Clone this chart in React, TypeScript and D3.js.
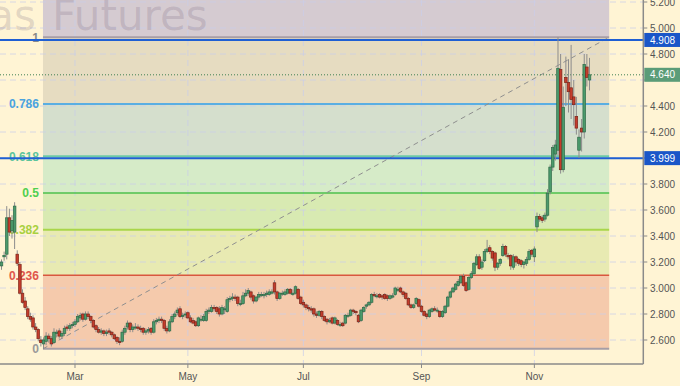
import React from "react";
import * as d3 from "d3";

// ---- data ----
const START_DATE = new Date(2018, 0, 22);
// [open, high, low, close] per trading day
const candles: [number, number, number, number][] = [
  [3.17,3.22,3.14,3.20],[3.24,3.28,3.21,3.25],[3.26,3.63,3.22,3.54],[3.54,3.61,3.40,3.43],
  [3.44,3.56,3.38,3.52],[3.43,3.66,3.30,3.63],[3.26,3.29,3.17,3.19],[3.18,3.20,2.95,2.96],
  [2.96,2.99,2.88,2.89],[2.90,2.93,2.83,2.85],[2.84,2.86,2.76,2.78],[2.78,2.81,2.74,2.76],
  [2.77,2.79,2.68,2.70],[2.70,2.73,2.66,2.68],[2.68,2.69,2.59,2.61],[2.60,2.63,2.55,2.58],
  [2.57,2.62,2.532,2.60],
  [2.59,2.66,2.56,2.63],[2.63,2.65,2.58,2.61],[2.61,2.63,2.55,2.57],[2.58,2.69,2.57,2.66],
  [2.65,2.68,2.62,2.66],[2.67,2.69,2.61,2.63],[2.63,2.67,2.61,2.65],[2.65,2.71,2.63,2.69],
  [2.70,2.72,2.67,2.69],[2.69,2.73,2.67,2.71],[2.71,2.74,2.69,2.72],[2.72,2.76,2.70,2.74],
  [2.74,2.80,2.73,2.78],[2.77,2.81,2.75,2.79],[2.80,2.81,2.74,2.76],[2.76,2.82,2.75,2.80],
  [2.80,2.82,2.76,2.78],[2.78,2.79,2.73,2.75],[2.75,2.76,2.69,2.70],[2.71,2.72,2.66,2.68],
  [2.68,2.70,2.65,2.66],[2.66,2.69,2.64,2.67],[2.67,2.68,2.63,2.65],[2.65,2.68,2.63,2.66],
  [2.67,2.69,2.64,2.66],[2.66,2.67,2.62,2.64],[2.64,2.65,2.60,2.61],[2.62,2.63,2.57,2.59],
  [2.59,2.62,2.56,2.58],[2.59,2.68,2.58,2.66],[2.66,2.71,2.64,2.69],[2.70,2.75,2.68,2.73],
  [2.73,2.74,2.66,2.68],[2.68,2.72,2.66,2.70],[2.70,2.73,2.68,2.70],[2.70,2.72,2.67,2.69],
  [2.69,2.71,2.66,2.68],[2.69,2.70,2.64,2.66],[2.66,2.69,2.64,2.67],[2.67,2.70,2.65,2.68],
  [2.69,2.70,2.64,2.66],[2.66,2.76,2.65,2.74],[2.74,2.77,2.72,2.75],[2.75,2.78,2.73,2.76],
  [2.76,2.78,2.73,2.75],[2.75,2.76,2.67,2.69],[2.69,2.71,2.65,2.67],[2.67,2.76,2.66,2.74],
  [2.74,2.80,2.73,2.78],[2.78,2.82,2.76,2.80],[2.81,2.85,2.79,2.83],[2.84,2.86,2.77,2.78],
  [2.78,2.81,2.76,2.79],[2.80,2.82,2.77,2.80],[2.81,2.82,2.76,2.77],[2.77,2.79,2.73,2.74],
  [2.75,2.77,2.72,2.73],[2.74,2.75,2.70,2.71],[2.71,2.78,2.70,2.77],[2.76,2.79,2.74,2.76],
  [2.75,2.80,2.74,2.78],[2.75,2.84,2.74,2.82],[2.82,2.85,2.80,2.83],[2.82,2.87,2.81,2.85],
  [2.85,2.87,2.82,2.84],[2.85,2.86,2.80,2.82],[2.84,2.86,2.78,2.80],[2.80,2.87,2.79,2.85],
  [2.84,2.86,2.80,2.84],[2.82,2.93,2.81,2.91],[2.91,2.94,2.89,2.92],[2.92,2.96,2.90,2.93],
  [2.93,2.95,2.90,2.92],[2.93,2.94,2.86,2.88],[2.88,2.91,2.86,2.88],[2.88,2.97,2.87,2.94],
  [2.94,2.99,2.93,2.96],[2.96,3.00,2.94,2.98],[2.97,2.98,2.91,2.93],[2.94,2.95,2.88,2.90],
  [2.90,2.94,2.89,2.93],[2.93,2.97,2.91,2.95],[2.95,2.97,2.93,2.95],[2.94,2.97,2.92,2.95],
  [2.95,2.98,2.93,2.96],[2.95,2.99,2.94,2.97],[2.96,2.99,2.95,2.97],[3.04,3.06,2.95,2.97],
  [2.97,2.98,2.90,2.92],[2.92,2.97,2.91,2.96],[2.96,2.98,2.94,2.96],[2.95,2.99,2.94,2.97],
  [2.96,3.00,2.95,2.99],[2.99,3.00,2.95,2.96],[2.95,2.99,2.94,2.96],[2.96,3.02,2.95,3.01],
  [2.99,3.00,2.91,2.92],[2.93,2.94,2.87,2.88],[2.89,2.91,2.85,2.87],[2.87,2.88,2.83,2.85],
  [2.85,2.87,2.82,2.84],[2.84,2.86,2.81,2.83],[2.84,2.85,2.78,2.80],[2.80,2.82,2.77,2.79],
  [2.79,2.83,2.78,2.82],[2.82,2.83,2.76,2.78],[2.78,2.79,2.74,2.75],[2.76,2.77,2.72,2.74],
  [2.74,2.77,2.73,2.75],[2.77,2.78,2.72,2.73],[2.73,2.78,2.72,2.77],[2.75,2.76,2.71,2.72],
  [2.72,2.74,2.70,2.72],[2.73,2.74,2.70,2.71],[2.73,2.80,2.72,2.79],[2.79,2.81,2.77,2.79],
  [2.79,2.84,2.78,2.83],[2.83,2.84,2.80,2.82],[2.82,2.83,2.79,2.81],[2.79,2.80,2.73,2.74],
  [2.75,2.84,2.74,2.83],[2.82,2.86,2.81,2.85],[2.86,2.88,2.84,2.87],[2.87,2.90,2.86,2.89],
  [2.89,2.96,2.88,2.95],[2.95,2.97,2.93,2.94],[2.94,2.96,2.92,2.94],[2.95,2.96,2.92,2.93],
  [2.94,2.95,2.91,2.93],[2.95,2.96,2.91,2.92],[2.94,2.95,2.90,2.92],[2.92,2.95,2.91,2.94],
  [2.93,2.96,2.92,2.94],[2.95,3.01,2.94,3.00],[2.99,3.01,2.97,2.99],[3.00,3.01,2.96,2.97],
  [2.97,2.98,2.93,2.95],[2.96,2.97,2.91,2.92],[2.92,2.93,2.86,2.87],[2.87,2.88,2.84,2.85],
  [2.85,2.88,2.84,2.87],[2.88,2.93,2.87,2.92],[2.91,2.92,2.85,2.86],[2.86,2.87,2.81,2.82],
  [2.82,2.83,2.78,2.79],[2.80,2.81,2.76,2.78],[2.78,2.84,2.77,2.83],[2.82,2.85,2.81,2.84],
  [2.84,2.86,2.82,2.83],[2.83,2.85,2.81,2.83],[2.82,2.83,2.77,2.78],[2.78,2.83,2.77,2.82],
  [2.81,2.87,2.80,2.86],[2.86,2.94,2.85,2.93],[2.93,2.98,2.92,2.97],[2.97,3.01,2.96,3.00],
  [2.99,3.04,2.98,3.03],[3.02,3.07,3.01,3.05],[3.04,3.10,3.03,3.09],[3.09,3.11,3.01,3.02],
  [3.04,3.05,2.97,2.98],[2.99,3.09,2.98,3.08],[3.08,3.13,3.07,3.11],[3.11,3.20,3.10,3.19],
  [3.18,3.26,3.17,3.24],[3.24,3.26,3.14,3.15],[3.16,3.22,3.14,3.20],[3.21,3.30,3.20,3.28],
  [3.28,3.37,3.27,3.30],[3.31,3.33,3.26,3.28],[3.28,3.29,3.21,3.23],[3.27,3.28,3.13,3.16],
  [3.16,3.20,3.14,3.19],[3.19,3.23,3.17,3.22],[3.25,3.34,3.24,3.32],[3.32,3.33,3.24,3.26],
  [3.25,3.27,3.22,3.24],[3.25,3.26,3.14,3.17],[3.16,3.26,3.14,3.24],[3.24,3.25,3.17,3.20],
  [3.22,3.23,3.17,3.19],[3.21,3.22,3.16,3.18],[3.18,3.21,3.15,3.20],[3.19,3.24,3.17,3.22],
  [3.22,3.30,3.21,3.28],[3.29,3.30,3.24,3.26],[3.24,3.32,3.20,3.30],
  [3.47,3.58,3.43,3.55],[3.55,3.57,3.51,3.53],[3.54,3.56,3.50,3.52],[3.53,3.58,3.51,3.56],
  [3.56,3.76,3.55,3.73],[3.74,3.95,3.72,3.93],[3.93,4.10,3.90,4.08],[4.03,4.14,3.98,4.10],
  [4.06,4.929,4.02,4.69],[4.68,4.80,3.88,3.91],[3.91,4.55,3.89,4.39],[4.62,4.78,4.40,4.58],
  [4.58,4.76,4.35,4.51],[4.54,4.87,4.30,4.45],[4.47,4.60,4.25,4.41],[4.32,4.47,4.18,4.23],
  [4.06,4.22,4.00,4.16],[4.23,4.30,4.05,4.20],[4.20,4.80,4.15,4.72],[4.70,4.80,4.55,4.62],
  [4.60,4.77,4.52,4.64],
];

const fibLow = 2.532;
const fibHigh = 4.929;
const fibLevels = [0, 0.236, 0.382, 0.5, 0.618, 0.786, 1];
const fibLabels = ["0", "0.236", "0.382", "0.5", "0.618", "0.786", "1"];
const fibLineColors = ["#a79ea6", "#d9573f", "#a9d64a", "#4cc04c", "#6ccaa6", "#5aaee2", "#a79ea6"];
const fibTextColors = ["#9a9a9a", "#e0574c", "#a8d040", "#4fcf4f", "#5cc59c", "#4aa3df", "#8a8a8a"];
// zone fills: index k = between level k and k+1; last = above 1
const fibZoneColors = ["#f5caac", "#e8eab2", "#d8eab2", "#d6ebc8", "#d5dfcd", "#e6dcc1", "#d5cbd1"];
const fibStartIdx = 15.8;
const fibEndIdx = 231.5;

const yTicks = [2.6, 2.8, 3.0, 3.2, 3.4, 3.6, 3.8, 4.0, 4.2, 4.4, 4.6, 4.8, 5.0, 5.2];
const monthLabels = ["Mar", "May", "Jul", "Sep", "Nov"];
const hLines = [4.908, 3.999];
const lastPrice = 4.64;

const W = 680, H = 386;
const AXIS_X = 643.3, AXIS_Y = 364;
const FONT = "'Liberation Sans', Arial, sans-serif";

export default function App() {
  const x = d3.scaleLinear().domain([0, 244.5]).range([1.5, AXIS_X]);
  const y = d3.scaleLinear().domain([2.6, 5.2]).range([340, 2]);

  const days = d3.timeDay
    .range(START_DATE, new Date(2018, 11, 31))
    .filter((d) => d.getDay() !== 0 && d.getDay() !== 6)
    .slice(0, candles.length);
  const fmt = d3.timeFormat("%b");
  const monthIdx = monthLabels.map((m) => ({ m, i: days.findIndex((d) => fmt(d) === m) }));

  const lv = (f: number) => fibLow + f * (fibHigh - fibLow);
  const fx0 = x(fibStartIdx), fx1 = x(fibEndIdx);
  const bw = 2.6;
  const boxVals = [...hLines, lastPrice];
  const covered = (t: number) => boxVals.some((v) => Math.abs(y(v) - y(t)) < 10);

  return (
    <svg width={W} height={H} style={{ position: "absolute", left: 0, top: 0, background: "#fff4d4" }}>
      {/* fib zones */}
      {fibZoneColors.map((c, k) => {
        const top = k === 6 ? 0 : y(lv(fibLevels[k + 1]));
        const bot = y(lv(fibLevels[k]));
        return <rect key={"z" + k} x={fx0} y={top} width={fx1 - fx0} height={bot - top} fill={c} />;
      })}
      {/* grid */}
      {yTicks.map((t) => (
        <line key={"gy" + t} x1={0} x2={AXIS_X} y1={y(t)} y2={y(t)} stroke="#c9cde8" strokeOpacity={0.75} strokeDasharray="6,4" />
      ))}
      {monthIdx.map(({ m, i }) => (
        <line key={"gx" + m} x1={x(i)} x2={x(i)} y1={0} y2={AXIS_Y} stroke="#c9cde8" strokeOpacity={0.75} strokeDasharray="6,4" />
      ))}
      {/* watermark */}
      <g fontFamily="'DejaVu Sans', sans-serif" fontSize={42} fill="#6b5a75" fillOpacity={0.2}>
        <text x={36} y={30} textAnchor="end">Gas</text>
        <text x={52} y={30}>Futures</text>
      </g>
      {/* fib lines */}
      {fibLevels.map((f, k) => (
        <line key={"fl" + k} x1={fx0} x2={fx1} y1={y(lv(f))} y2={y(lv(f))} stroke={fibLineColors[k]} strokeWidth={k === 3 || k === 1 ? 1.5 : 2} />
      ))}
      {fibLevels.map((f, k) => (
        <text key={"ft" + k} x={fx0 - 4} y={y(lv(f))} dy="0.36em" textAnchor="end" fontFamily={FONT} fontSize={12} fontWeight="bold" fill={fibTextColors[k]}>
          {fibLabels[k]}
        </text>
      ))}
      {/* diagonal */}
      <line x1={fx0} y1={y(lv(0))} x2={fx1} y2={y(lv(1))} stroke="#8f8f8f" strokeWidth={1} strokeDasharray="5,4" />
      {/* horizontal lines */}
      {hLines.map((v) => (
        <line key={"h" + v} x1={0} x2={AXIS_X} y1={y(v)} y2={y(v)} stroke="#1f5fd3" strokeWidth={2} />
      ))}
      <line x1={0} x2={AXIS_X} y1={y(lastPrice)} y2={y(lastPrice)} stroke="#3f7f52" strokeWidth={1} strokeDasharray="1,2" />
      {/* candles */}
      {candles.map(([o, h, l, c], i) => {
        const cx = x(i);
        const up = c >= o;
        const top = y(Math.max(o, c));
        const bh = Math.max(1, y(Math.min(o, c)) - top);
        return (
          <g key={"c" + i}>
            <line x1={cx} x2={cx} y1={y(h)} y2={y(l)} stroke="#8c8c8c" strokeWidth={1} />
            <rect x={cx - bw / 2} y={top} width={bw} height={bh} fill={up ? "#4b9a6c" : "#c43c2c"} stroke={up ? "#2e6a47" : "#7c2418"} strokeWidth={0.7} />
          </g>
        );
      })}
      {/* axes */}
      <line x1={AXIS_X} x2={AXIS_X} y1={0} y2={AXIS_Y} stroke="#8a8a8a" strokeWidth={1.5} />
      <line x1={0} x2={AXIS_X} y1={AXIS_Y} y2={AXIS_Y} stroke="#8a8a8a" strokeWidth={1.5} />
      {yTicks.map((t) => (
        <g key={"yt" + t}>
          <line x1={AXIS_X} x2={AXIS_X + 4} y1={y(t)} y2={y(t)} stroke="#8a8a8a" />
          {!covered(t) && (
            <text x={650} y={y(t)} dy="0.36em" fontFamily={FONT} fontSize={10} fill="#555">{t.toFixed(3)}</text>
          )}
        </g>
      ))}
      {monthIdx.map(({ m, i }) => (
        <g key={"xt" + m}>
          <line x1={x(i)} x2={x(i)} y1={AXIS_Y} y2={AXIS_Y + 4} stroke="#8a8a8a" />
          <text x={x(i)} y={379.5} textAnchor="middle" fontFamily={FONT} fontSize={10} fill="#555">{m}</text>
        </g>
      ))}
      {/* price boxes */}
      {hLines.map((v) => (
        <g key={"b" + v}>
          <rect x={AXIS_X + 1} y={y(v) - 7} width={W - AXIS_X} height={14} fill="#1a56c8" />
          <text x={650} y={y(v)} dy="0.36em" fontFamily={FONT} fontSize={10} fill="#fff">{v.toFixed(3)}</text>
        </g>
      ))}
      <rect x={AXIS_X + 1} y={y(lastPrice) - 7} width={W - AXIS_X} height={14} fill="#5b9c78" />
      <text x={650} y={y(lastPrice)} dy="0.36em" fontFamily={FONT} fontSize={10} fill="#fff">{lastPrice.toFixed(3)}</text>
    </svg>
  );
}
